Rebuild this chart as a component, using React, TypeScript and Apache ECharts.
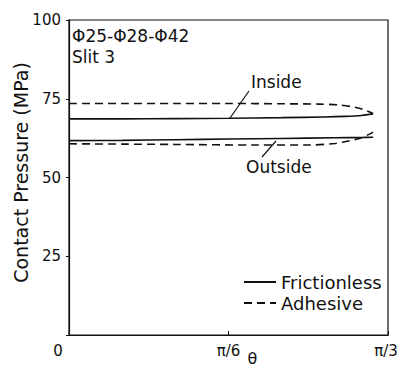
import React, { useEffect, useRef } from "react";
import * as echarts from "echarts";

// angle in degrees (0 .. 60 = π/3), contact pressure in MPa
const insideFrictionless: [number, number][] = [
  [0, 68.6], [10, 68.6], [20, 68.7], [30, 68.8], [40, 69.0], [48, 69.2], [52, 69.4], [55, 69.7], [57.2, 70.2],
];
const insideAdhesive: [number, number][] = [
  [0, 73.5], [10, 73.5], [20, 73.5], [30, 73.5], [40, 73.4], [47, 73.3], [51, 73.0], [54, 72.2], [56, 71.2], [57.2, 70.3],
];
const outsideFrictionless: [number, number][] = [
  [0, 61.7], [10, 61.8], [20, 62.0], [30, 62.2], [40, 62.4], [50, 62.6], [55, 62.7], [57.2, 62.8],
];
const outsideAdhesive: [number, number][] = [
  [0, 60.7], [10, 60.6], [20, 60.5], [35, 60.3], [45, 60.3], [50, 60.8], [52.5, 61.6], [55, 62.6], [57.2, 64.4],
];
const xTickLabels: Record<number, string> = { 0: "0", 30: "π/6", 60: "π/3" };
const yTickLabels = [25, 50, 75, 100];

const FONT = "DejaVu Sans";

export default function App() {
  const ref = useRef<HTMLDivElement>(null);
  useEffect(() => {
    if (!ref.current) return;
    const chart = echarts.init(ref.current, null, { renderer: "svg" });
    const solid = { color: "#111", width: 1.6, type: "solid" as const };
    const dashed = { color: "#111", width: 1.6, type: [8, 5] as any };
    chart.setOption({
      animation: false,
      backgroundColor: "#fff",
      textStyle: { fontFamily: FONT, color: "#111" },
      grid: {
        left: 69, right: 12, top: 20, bottom: 32, show: true, borderColor: "#111", borderWidth: 1.2,
        containLabel: false, outerBoundsMode: "none",
      },
      legend: {
        orient: "vertical",
        left: 238,
        top: 268,
        itemWidth: 32,
        itemHeight: 14,
        itemGap: 3,
        data: ["Frictionless", "Adhesive"],
        itemStyle: { opacity: 0 },
        textStyle: { fontFamily: FONT, fontSize: 18, color: "#111" },
      },
      xAxis: {
        type: "value",
        min: 0,
        max: 60,
        interval: 30,
        name: "θ",
        nameLocation: "middle",
        nameGap: 15,
        nameMoveOverlap: false,
        nameTextStyle: { fontFamily: FONT, fontSize: 16, color: "#111", padding: [0, 0, 0, 48] },
        axisLine: { lineStyle: { color: "#111", width: 1.2 } },
        axisTick: { show: true, inside: true, length: 4, lineStyle: { color: "#111" } },
        splitLine: { show: false },
        axisLabel: {
          margin: 8,
          fontSize: 15,
          color: "#111",
          fontFamily: FONT,
          formatter: (v: number) => (v === 0 ? "{z|0}" : v === 60 ? "{r|" + xTickLabels[v] + "}" : xTickLabels[v] ?? ""),
          rich: {
            z: { fontSize: 15, fontFamily: FONT, color: "#111", padding: [0, 22, 0, 0] },
            r: { fontSize: 15, fontFamily: FONT, color: "#111", padding: [0, 4, 0, 0] },
          },
        },
      },
      yAxis: {
        type: "value",
        min: 0,
        max: 100,
        interval: 25,
        name: "Contact Pressure (MPa)",
        nameLocation: "middle",
        nameGap: 39,
        nameMoveOverlap: false,
        nameTextStyle: { fontFamily: FONT, fontSize: 19, color: "#111", padding: [0, 0, 0, 10] },
        axisLine: { show: true, lineStyle: { color: "#111", width: 1.2 } },
        axisTick: { show: true, length: 3, lineStyle: { color: "#111" } },
        splitLine: { show: false },
        axisLabel: {
          margin: 8,
          fontSize: 15,
          color: "#111",
          fontFamily: FONT,
          formatter: (v: number) => (yTickLabels.includes(v) ? String(v) : ""),
        },
      },
      series: [
        { name: "Frictionless", type: "line", data: insideFrictionless, symbol: "none", smooth: 0.3, lineStyle: solid, itemStyle: { color: "#111" } },
        { name: "Adhesive", type: "line", data: insideAdhesive, symbol: "none", smooth: 0.3, lineStyle: dashed, itemStyle: { color: "#111" } },
        { name: "Frictionless", type: "line", data: outsideFrictionless, symbol: "none", smooth: 0.3, lineStyle: solid, itemStyle: { color: "#111" } },
        { name: "Adhesive", type: "line", data: outsideAdhesive, symbol: "none", smooth: 0.3, lineStyle: dashed, itemStyle: { color: "#111" } },
      ],
      graphic: [
        { type: "text", left: 72, top: 27, style: { text: "Φ25-Φ28-Φ42", fontFamily: FONT, fontSize: 17, fill: "#111" } },
        { type: "text", left: 72, top: 48, style: { text: "Slit 3", fontFamily: FONT, fontSize: 17, fill: "#111" } },
        { type: "text", left: 251, top: 73, style: { text: "Inside", fontFamily: FONT, fontSize: 17, fill: "#111" } },
        { type: "text", left: 246, top: 158, style: { text: "Outside", fontFamily: FONT, fontSize: 17, fill: "#111" } },
        { type: "line", shape: { x1: 230, y1: 118, x2: 249, y2: 91 }, style: { stroke: "#111", lineWidth: 1.2 } },
        { type: "line", shape: { x1: 262, y1: 157, x2: 276, y2: 141 }, style: { stroke: "#111", lineWidth: 1.2 } },
      ],
    });
    return () => chart.dispose();
  }, []);
  return <div ref={ref} style={{ width: 400, height: 367, position: "absolute", left: 0, top: 0 }} />;
}
